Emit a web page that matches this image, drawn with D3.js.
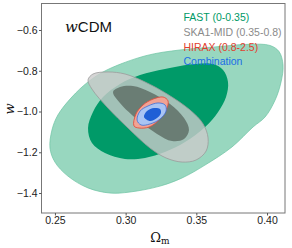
<!DOCTYPE html>
<html><head><meta charset="utf-8">
<script src="https://cdn.jsdelivr.net/npm/d3@7"></script>
<style>html,body{margin:0;padding:0;background:#fff;}svg{display:block;}</style>
</head><body>
<svg id="c" width="292" height="248"></svg>
<script>
// Contour data: [Omega_m, w] points
const fastOuter = [[0.2465,-1.179],[0.2479,-1.091],[0.2521,-1.017],[0.2620,-0.929],[0.2734,-0.855],[0.2868,-0.796],[0.3144,-0.726],[0.3384,-0.698],[0.3632,-0.683],[0.3880,-0.670],[0.4021,-0.676],[0.4085,-0.706],[0.4113,-0.772],[0.4099,-0.855],[0.4057,-0.944],[0.3986,-1.027],[0.3901,-1.076],[0.3752,-1.174],[0.3561,-1.263],[0.3399,-1.326],[0.3243,-1.366],[0.3031,-1.395],[0.2889,-1.400],[0.2734,-1.375],[0.2592,-1.317],[0.2500,-1.248]];
const fastInner = [[0.2734,-1.081],[0.2769,-1.002],[0.2840,-0.929],[0.2960,-0.865],[0.3102,-0.821],[0.3278,-0.791],[0.3491,-0.767],[0.3618,-0.767],[0.3689,-0.796],[0.3724,-0.855],[0.3710,-0.929],[0.3654,-1.002],[0.3562,-1.076],[0.3420,-1.150],[0.3278,-1.199],[0.3137,-1.228],[0.2995,-1.233],[0.2854,-1.204],[0.2762,-1.155]];
const skaOuter = [[0.2734,-0.845],[0.2769,-0.816],[0.2875,-0.806],[0.2996,-0.816],[0.3137,-0.855],[0.3293,-0.914],[0.3456,-0.993],[0.3548,-1.061],[0.3583,-1.130],[0.3569,-1.194],[0.3498,-1.238],[0.3399,-1.248],[0.3286,-1.228],[0.3172,-1.179],[0.3017,-1.081],[0.2875,-0.983],[0.2762,-0.890]];
const skaInner = [[0.2911,-0.904],[0.2960,-0.880],[0.3052,-0.875],[0.3172,-0.904],[0.3314,-0.963],[0.3413,-1.032],[0.3448,-1.091],[0.3413,-1.135],[0.3328,-1.145],[0.3222,-1.110],[0.3087,-1.042],[0.2960,-0.958]];
const hiraxOuter = [[0.3059,-1.071],[0.3073,-1.012],[0.3123,-0.968],[0.3194,-0.939],[0.3265,-0.929],[0.3300,-0.948],[0.3286,-0.993],[0.3236,-1.042],[0.3166,-1.076],[0.3095,-1.081]];
const combOuter = [[0.3081,-1.042],[0.3102,-0.998],[0.3158,-0.973],[0.3229,-0.958],[0.3279,-0.968],[0.3286,-0.998],[0.3243,-1.037],[0.3173,-1.061],[0.3109,-1.066]];
const combInner = [[0.3130,-1.027],[0.3151,-0.998],[0.3201,-0.983],[0.3243,-0.988],[0.3250,-1.007],[0.3222,-1.032],[0.3173,-1.047]];

const xTicks = [0.25, 0.30, 0.35, 0.40];
const yTicks = [-0.6, -0.8, -1.0, -1.2, -1.4];
const legendLabels = ["FAST (0-0.35)", "SKA1-MID (0.35-0.8)", "HIRAX (0.8-2.5)", "Combination"];
const legendColors = ["#009966", "#8a8a8a", "#e0402e", "#1a6ee6"];

const svg = d3.select("#c");
const L = 41.5, R = 285, T = 3.5, B = 213;
const x = d3.scaleLinear().domain([0.2405, 0.4127]).range([L, R]);
const y = d3.scaleLinear().domain([-1.498, -0.470]).range([B, T]);

const line = d3.line().x(d => x(d[0])).y(d => y(d[1])).curve(d3.curveCatmullRomClosed.alpha(0.5));

const g = svg.append("g");
g.append("defs").append("clipPath").attr("id","clip").append("rect")
  .attr("x", L).attr("y", T).attr("width", R-L).attr("height", B-T);
const plot = g.append("g").attr("clip-path","url(#clip)");

plot.append("path").attr("d", line(fastOuter)).attr("fill","#98d7bf").attr("stroke","#6cc3a2").attr("stroke-width",0.7);
plot.append("path").attr("d", line(fastInner)).attr("fill","#009a68");
plot.append("path").attr("d", line(skaOuter)).attr("fill","#cbcbcb").attr("fill-opacity",0.8).attr("stroke","#9a9a9a").attr("stroke-width",0.8);
plot.append("path").attr("d", line(skaInner)).attr("fill","#6a7d74");
plot.append("path").attr("d", line(hiraxOuter)).attr("fill","#f1a394").attr("stroke","#e0503e").attr("stroke-width",0.9);
plot.append("path").attr("d", line(combOuter)).attr("fill","#a9c4f3").attr("stroke","#3a6fd8").attr("stroke-width",0.8);
plot.append("path").attr("d", line(combInner)).attr("fill","#1f5fd6");

// frame
g.append("rect").attr("x", L).attr("y", T).attr("width", R-L).attr("height", B-T)
  .attr("fill","none").attr("stroke","#777").attr("stroke-width",1);

const font = "'Liberation Sans', Arial, sans-serif";
const xAxis = g.append("g").attr("transform",`translate(0,${B})`)
  .call(d3.axisBottom(x).tickValues(xTicks).tickFormat(d3.format(".2f")).tickSize(2.5).tickPadding(1.5));
const yAxis = g.append("g").attr("transform",`translate(${L},0)`)
  .call(d3.axisLeft(y).tickValues(yTicks).tickFormat(d => d3.format(".1f")(d).replace("-", "\u2212")).tickSize(2.5).tickPadding(1.5));
[xAxis, yAxis].forEach(a => {
  a.select(".domain").remove();
  a.selectAll(".tick line").attr("stroke","#555");
  a.selectAll("text").attr("font-family", font).attr("font-size", 10.5).attr("fill","#222");
});

// legend
legendLabels.forEach((t, i) => {
  g.append("text").attr("x", 183.5).attr("y", 21 + i*14.8).text(t)
    .attr("font-family", font).attr("font-size", 10.5).attr("fill", legendColors[i]);
});

// title
const title = g.append("text").attr("x", 65).attr("y", 32).attr("fill","#111");
title.append("tspan").text("w").attr("font-family","'DejaVu Serif', serif").attr("font-style","italic").attr("font-size",15);
title.append("tspan").text("CDM").attr("font-family", font).attr("font-size",15);

// axis labels
g.append("text").attr("transform","translate(14,109) rotate(-90)").attr("text-anchor","middle")
  .attr("font-family","'DejaVu Serif', serif").attr("font-style","italic").attr("font-size",13).attr("fill","#111").text("w");
const xl = g.append("text").attr("x", 160).attr("y", 242).attr("text-anchor","middle").attr("fill","#111")
  .attr("font-family","'DejaVu Serif', serif");
xl.append("tspan").text("\u03A9").attr("font-size",13);
xl.append("tspan").text("m").attr("font-size",9).attr("dy",2);
</script>
</body></html>
